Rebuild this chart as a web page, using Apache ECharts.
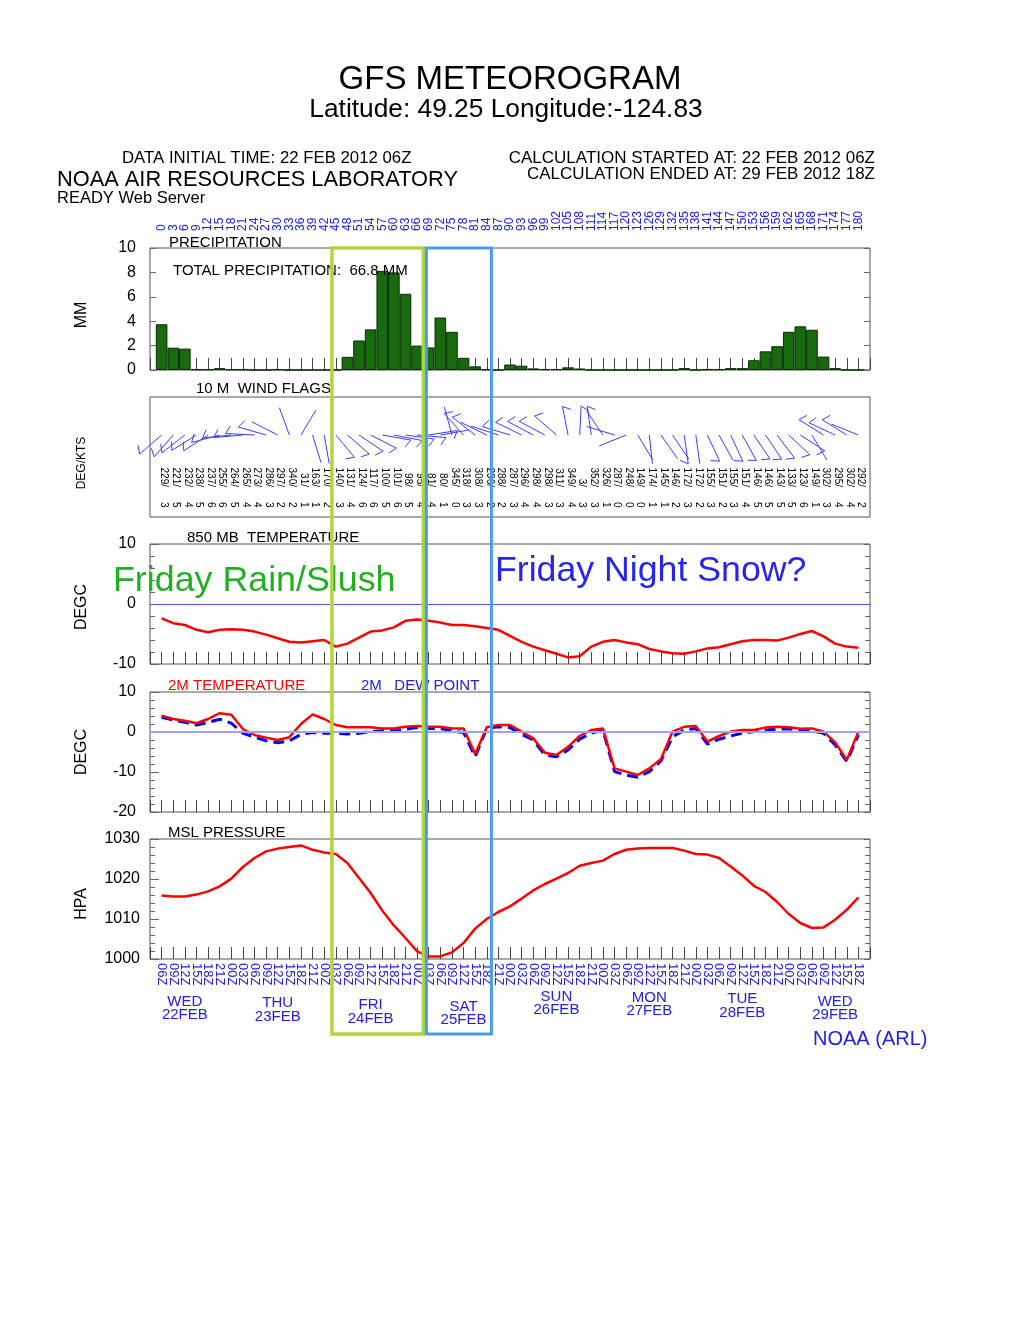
<!DOCTYPE html>
<html><head><meta charset="utf-8">
<script src="https://cdn.jsdelivr.net/npm/echarts@6/dist/echarts.min.js"></script>
<style>html,body{margin:0;padding:0;background:#fff}#c{width:1020px;height:1320px}</style>
</head><body><div id="c"></div>
<script>
// ---------------- DATA ----------------
const hours = [0,3,6,9,12,15,18,21,24,27,30,33,36,39,42,45,48,51,54,57,60,63,66,69,72,75,78,81,84,87,90,93,96,99,102,105,108,111,114,117,120,123,126,129,132,135,138,141,144,147,150,153,156,159,162,165,168,171,174,177,180];
const zLabels = ['06Z','09Z','12Z','15Z','18Z','21Z','00Z','03Z','06Z','09Z','12Z','15Z','18Z','21Z','00Z','03Z','06Z','09Z','12Z','15Z','18Z','21Z','00Z','03Z','06Z','09Z','12Z','15Z','18Z','21Z','00Z','03Z','06Z','09Z','12Z','15Z','18Z','21Z','00Z','03Z','06Z','09Z','12Z','15Z','18Z','21Z','00Z','03Z','06Z','09Z','12Z','15Z','18Z','21Z','00Z','03Z','06Z','09Z','12Z','15Z','18Z'];
const dayHours = [6,30,54,78,102,126,150,174];
const dayNames = ['WED','THU','FRI','SAT','SUN','MON','TUE','WED'];
const dayDates = ['22FEB','23FEB','24FEB','25FEB','26FEB','27FEB','28FEB','29FEB'];

const precip = [3.75,1.83,1.75,0.05,0.05,0.15,0.04,0.04,0,0,
  0.05,0,0,0,0,0,1.08,2.42,3.33,8.13,
  8.0,6.25,2.0,1.85,4.3,3.13,1.0,0.3,0.05,0,
  0.45,0.35,0.13,0.07,0.07,0.22,0.12,0,0,0,
  0,0,0,0,0,0.15,0,0.05,0.05,0.15,
  0.15,0.8,1.53,1.95,3.13,3.58,3.3,1.1,0.15,0,
  0];
const totalPrecip = '66.8';

const windDir = [229,221,232,238,237,255,264,265,273,286,
  297,340,31,163,170,140,131,124,117,100,
  101,98,95,81,80,345,318,308,296,288,
  287,296,298,298,311,349,3,352,326,287,
  248,149,174,145,146,172,172,155,151,155,
  151,146,146,143,133,123,149,302,295,302,
  292];
const windSpd = [3,5,4,5,6,6,5,4,4,3,
  2,2,1,1,2,3,4,6,6,5,
  6,5,4,4,1,0,3,3,2,2,
  3,4,4,3,3,4,3,3,1,0,
  0,0,1,1,2,3,2,3,2,3,
  4,5,5,5,5,6,1,3,4,4,
  2];

const t850 = [-2.4,-3.2,-3.5,-4.3,-4.7,-4.3,-4.2,-4.3,-4.6,-5.1,
  -5.7,-6.3,-6.4,-6.2,-6.0,-7.1,-6.6,-5.6,-4.6,-4.4,
  -3.9,-2.8,-2.6,-2.8,-3.1,-3.5,-3.5,-3.7,-4.0,-4.3,
  -5.3,-6.3,-7.1,-7.7,-8.3,-8.9,-8.7,-7.1,-6.3,-6.0,
  -6.4,-6.7,-7.5,-7.9,-8.2,-8.3,-7.9,-7.4,-7.2,-6.7,
  -6.2,-6.0,-6.0,-6.1,-5.6,-5.0,-4.5,-5.4,-6.6,-7.1,
  -7.3];
const t2m = [4.1,3.25,2.8,2.2,3.25,4.7,4.3,0.75,-0.75,-1.4,
  -2.0,-1.3,2.0,4.4,3.25,1.75,1.2,1.2,1.2,0.9,
  0.9,1.3,1.5,1.3,1.3,0.9,0.9,-5.5,1.2,1.75,
  1.75,0.1,-1.6,-5.2,-5.75,-3.7,-1.0,0.5,0.9,-9.1,
  -9.9,-10.75,-9.1,-6.75,0.1,1.3,1.5,-2.4,-1.0,0.1,
  0.5,0.5,1.1,1.3,1.2,0.8,0.9,0.1,-2.6,-7.0,
  0.1];
const dew2m = [3.7,3.0,2.4,1.75,2.4,3.2,2.2,-0.3,-1.3,-2.2,
  -2.7,-2.2,-0.6,-0.1,-0.3,-0.3,-0.5,-0.3,0.1,0.3,
  0.3,0.7,1.1,0.9,0.9,0.25,-0.1,-6.2,0.9,1.3,
  1.1,-0.6,-2.0,-5.75,-6.2,-4.5,-1.8,-0.3,0.5,-9.9,
  -10.75,-11.3,-9.9,-7.25,-1.2,0.5,0.9,-3.0,-1.8,-1.0,
  -0.3,0.1,0.5,0.75,0.75,0.5,0.3,-0.3,-3.25,-7.4,
  -0.75];
const mslp = [1015.9,1015.65,1015.65,1016.1,1016.9,1018.15,1020.1,1023.0,1025.25,1026.9,
  1027.6,1028.0,1028.4,1027.3,1026.65,1026.25,1024.0,1020.25,1016.5,1012.1,
  1008.4,1005.25,1001.9,1000.65,1000.65,1001.65,1004.0,1007.6,1010.0,1011.75,
  1013.15,1015.1,1017.15,1018.75,1020.1,1021.5,1023.3,1024.0,1024.6,1026.25,
  1027.3,1027.65,1027.75,1027.75,1027.75,1027.1,1026.25,1026.1,1025.25,1023.15,
  1020.9,1018.3,1016.75,1014.25,1011.25,1009.0,1007.75,1007.9,1009.8,1012.3,
  1015.4];

// annotation boxes (forecast hours)
const greenBoxHours = [44, 67.6];
const blueBoxHours = [68.4, 85.2];

// ---------------- STYLE / LAYOUT ----------------
const FONT = 'Liberation Sans, Arial, Helvetica, sans-serif';
const BLUE = '#2020e6';
const GRID_LEFT = 150, GRID_W = 720;

function xa(grid, extra) {
  return Object.assign({
    type: 'value', gridIndex: grid, min: -3, max: 183, interval: 3, position: 'bottom',
    axisLine: {show: false, onZero: false},
    axisTick: {show: true, inside: true, length: 12, lineStyle: {color: '#444', width: 1}},
    axisLabel: {show: false}, splitLine: {show: false}
  }, extra || {});
}
const minorT = {show: true, splitNumber: 5, length: 5, lineStyle: {color: '#666'}};
function nameStyle(size, shiftDown) {
  return {color: '#000', fontSize: size, fontFamily: FONT, padding: [0, 2 * shiftDown, 0, 0]};
}
function ya(grid, min, max, interval, extra) {
  return Object.assign({
    type: 'value', gridIndex: grid, min: min, max: max, interval: interval, position: 'left',
    axisLine: {show: false, onZero: false},
    axisTick: {show: true, inside: true, length: 6, lineStyle: {color: '#666'}},
    minorTick: {show: false},
    axisLabel: {show: true, color: '#000', fontSize: 16, fontFamily: FONT, margin: 14, formatter: v => String(v)},
    splitLine: {show: false},
    nameLocation: 'middle', nameRotate: 90, nameGap: 60,
    nameTextStyle: nameStyle(16, 0)
  }, extra || {});
}
function yr(grid, min, max, interval, minor) {
  return {
    type: 'value', gridIndex: grid, min: min, max: max, interval: interval, position: 'right',
    axisLine: {show: false, onZero: false},
    axisTick: {show: true, inside: true, length: 6, lineStyle: {color: '#666'}},
    minorTick: minor ? minorT : {show: false},
    axisLabel: {show: false}, splitLine: {show: false}
  };
}

const gridDef = (top, h) => ({left: GRID_LEFT, width: GRID_W, top: top, height: h, show: true,
  borderColor: '#555', borderWidth: 1, backgroundColor: 'transparent'});

const BARB_Y = 82, DIR_Y = 30, SPD_Y = 15;

function renderWind(params, api) {
  const h = api.value(0), dir = api.value(1), spd = api.value(2);
  const s = api.coord([h, BARB_Y]);
  const L = 29;
  const r = dir * Math.PI / 180;
  const ux = Math.sin(r), uy = -Math.cos(r);
  const tx = s[0] + L * ux, ty = s[1] + L * uy;
  const st = {stroke: '#3c3cff', lineWidth: 1};
  const children = [{type: 'line', shape: {x1: s[0], y1: s[1], x2: tx, y2: ty}, style: st}];
  const knots = Math.round(spd / 5) * 5;
  const fr = (dir + 120) * Math.PI / 180;
  const fx = Math.sin(fr), fy = -Math.cos(fr);
  let rem = knots, k = 0;
  while (rem >= 10) {
    const bx = tx - ux * k * 5, by = ty - uy * k * 5;
    children.push({type: 'line', shape: {x1: bx, y1: by, x2: bx + fx * 16, y2: by + fy * 16}, style: st});
    rem -= 10; k++;
  }
  if (rem >= 5) {
    const bx = tx - ux * k * 5, by = ty - uy * k * 5;
    children.push({type: 'line', shape: {x1: bx, y1: by, x2: bx + fx * 9, y2: by + fy * 9}, style: st});
  }
  const pd = api.coord([h, DIR_Y]);
  const ps = api.coord([h, SPD_Y]);
  children.push({type: 'text', x: pd[0] + 2.5, y: pd[1], rotation: -Math.PI / 2,
    style: {text: dir + '/', align: 'right', verticalAlign: 'middle', fill: '#000', fontSize: 10, fontFamily: FONT}});
  children.push({type: 'text', x: ps[0] + 2.5, y: ps[1], rotation: -Math.PI / 2,
    style: {text: String(spd), align: 'left', verticalAlign: 'middle', fill: '#000', fontSize: 10, fontFamily: FONT}});
  return {type: 'group', children: children};
}

// day labels: a thin spacer line per label gives the original's slight vertical stagger
const dayRich = {
  t: {color: BLUE, fontSize: 15, fontFamily: FONT, lineHeight: 13.5},
  d: {color: BLUE, fontSize: 15, fontFamily: FONT, lineHeight: 13.5}
};
const dayStagger = [5, 6.5, 8.5, 10, 0, 1, 2.5, 5];
dayStagger.forEach((p, i) => {
  dayRich['s' + i] = {fontSize: 1, lineHeight: 4 + p, color: 'rgba(0,0,0,0)'};
});

const option = {
  animation: false,
  backgroundColor: '#fff',
  textStyle: {fontFamily: FONT},
  grid: [gridDef(248, 122), gridDef(397, 120), gridDef(544, 120), gridDef(692, 120), gridDef(839, 120)],
  xAxis: [
    xa(0),
    xa(0, {position: 'top', axisTick: {show: false},
      axisLabel: {show: true, rotate: -90, margin: 17, color: BLUE, fontSize: 12, fontFamily: FONT,
        formatter: v => hours.indexOf(v) >= 0 ? String(v) : ''}}),
    xa(1, {axisTick: {show: false}}),
    xa(2),
    xa(3),
    xa(4, {axisLabel: {show: true, rotate: -90, margin: 4, color: BLUE, fontSize: 13, fontFamily: FONT,
      formatter: v => { const i = hours.indexOf(v); return i >= 0 ? zLabels[i] : ''; }}}),
    xa(4, {axisTick: {show: false}, offset: 0, position: 'bottom',
      axisLabel: {show: true, margin: 27, customValues: dayHours, interval: 0,
        formatter: v => { const i = dayHours.indexOf(v); return i >= 0 ? '{s' + i + '|.}\n{t|' + dayNames[i] + '}\n{d|' + dayDates[i] + '}' : ''; },
        rich: dayRich}})
  ],
  yAxis: [
    ya(0, 0, 10, 2, {name: 'MM', nameTextStyle: nameStyle(16, 6)}),
    yr(0, 0, 10, 2, false),
    {type: 'value', gridIndex: 1, min: 0, max: 120, position: 'left', axisLine: {show: false, onZero: false}, axisTick: {show: false},
      axisLabel: {show: false}, splitLine: {show: false}, name: 'DEG/KTS', nameLocation: 'middle',
      nameRotate: 90, nameGap: 62, nameTextStyle: nameStyle(12, 6)},
    ya(2, -10, 10, 10, {name: 'DEGC', nameTextStyle: nameStyle(16, 3), axisTick: {show: true, inside: true, length: 9, lineStyle: {color: '#666'}}, minorTick: minorT}),
    yr(2, -10, 10, 10, true),
    ya(3, -20, 10, 10, {name: 'DEGC', axisTick: {show: true, inside: true, length: 9, lineStyle: {color: '#666'}}, minorTick: minorT}),
    yr(3, -20, 10, 10, true),
    ya(4, 1000, 1030, 10, {name: 'HPA', nameTextStyle: nameStyle(16, 5), axisTick: {show: true, inside: true, length: 9, lineStyle: {color: '#666'}},
      axisLabel: {show: true, color: '#000', fontSize: 16, fontFamily: FONT, margin: 10, formatter: v => String(v)},
      minorTick: minorT}),
    yr(4, 1000, 1030, 10, true)
  ],
  series: [
    {type: 'bar', xAxisIndex: 0, yAxisIndex: 0, barWidth: 11.6,
      data: hours.map((h, i) => [h, precip[i]]),
      itemStyle: {color: '#176b0c', borderColor: '#0a2a05', borderWidth: 1}},
    {type: 'custom', xAxisIndex: 2, yAxisIndex: 2, renderItem: renderWind, encode: {x: 0},
      data: hours.map((h, i) => [h, windDir[i], windSpd[i]]), silent: true},
    {type: 'line', xAxisIndex: 3, yAxisIndex: 3, showSymbol: false, symbol: 'none',
      data: hours.map((h, i) => [h, t850[i]]), lineStyle: {color: '#ff0000', width: 2.5},
      markLine: {silent: true, symbol: 'none', label: {show: false}, lineStyle: {color: '#5050ff', width: 1, type: 'solid'}, data: [{yAxis: 0}]}},
    {type: 'line', xAxisIndex: 4, yAxisIndex: 5, showSymbol: false, symbol: 'none',
      data: hours.map((h, i) => [h, dew2m[i]]), lineStyle: {color: '#0000ff', width: 3, type: [11, 6]},
      markLine: {silent: true, symbol: 'none', label: {show: false}, lineStyle: {color: '#a0a0ff', width: 2, type: 'solid'}, data: [{yAxis: 0}]}},
    {type: 'line', xAxisIndex: 4, yAxisIndex: 5, showSymbol: false, symbol: 'none',
      data: hours.map((h, i) => [h, t2m[i]]), lineStyle: {color: '#ff0000', width: 2.5}},
    {type: 'line', xAxisIndex: 5, yAxisIndex: 7, showSymbol: false, symbol: 'none',
      data: hours.map((h, i) => [h, mslp[i]]), lineStyle: {color: '#ff0000', width: 2.5}}
  ]
};

const chart = echarts.init(document.getElementById('c'), null, {renderer: 'canvas'});
chart.setOption(option);

function txt(x, y, text, size, color, align) {
  return {type: 'text', x: x, y: y, z: 50,
    style: {text: text, fill: color || '#000', font: size + 'px ' + FONT, align: align || 'left', verticalAlign: 'middle'}};
}
function box(range, color, w) {
  const x1 = chart.convertToPixel({xAxisIndex: 0}, range[0]);
  const x2 = chart.convertToPixel({xAxisIndex: 0}, range[1]);
  return {type: 'rect', z: 100, shape: {x: x1, y: 248, width: x2 - x1, height: 786},
    style: {fill: null, stroke: color, lineWidth: w}};
}
chart.setOption({graphic: [
  txt(510, 80, 'GFS METEOROGRAM', 33, '#000', 'center'),
  txt(506, 110, 'Latitude: 49.25 Longitude:-124.83', 26.3, '#000', 'center'),
  txt(122, 158, 'DATA INITIAL TIME: 22 FEB 2012 06Z', 16.8),
  txt(57, 180, 'NOAA AIR RESOURCES LABORATORY', 21.8),
  txt(57, 198, 'READY Web Server', 16.5),
  txt(875, 158, 'CALCULATION STARTED AT: 22 FEB 2012 06Z', 17, '#000', 'right'),
  txt(875, 174, 'CALCULATION ENDED AT: 29 FEB 2012 18Z', 17, '#000', 'right'),
  txt(169, 243, 'PRECIPITATION', 15),
  txt(173, 271, 'TOTAL PRECIPITATION:  ' + totalPrecip + ' MM', 15),
  txt(196, 389, '10 M  WIND FLAGS', 15),
  txt(187, 538, '850 MB  TEMPERATURE', 15),
  txt(168, 686, '2M TEMPERATURE', 15, '#ff0000'),
  txt(361, 686, '2M   DEW POINT', 15, BLUE),
  txt(168, 833, 'MSL PRESSURE', 15),
  txt(113, 581, 'Friday Rain/Slush', 35.8, '#22b022'),
  txt(495, 571, 'Friday Night Snow?', 35.7, '#2525ee'),
  txt(813, 1039, 'NOAA (ARL)', 20, BLUE),
  box(greenBoxHours, '#afd63c', 3.5),
  box(blueBoxHours, '#4a9cf2', 3)
]});
</script></body></html>
